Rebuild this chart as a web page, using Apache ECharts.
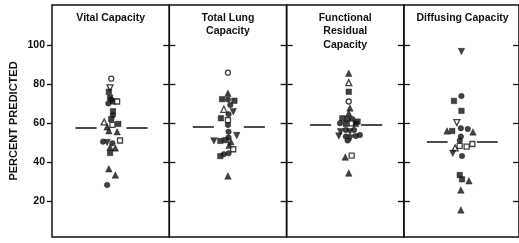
<!DOCTYPE html>
<html>
<head>
    <meta charset="utf-8">
    <style>
        html, body {
            margin: 0;
            padding: 0;
            background: #fff;
        }

        #chart-panel {
            width: 519px;
            height: 243px;
        }
    </style>
</head>
<body>
    <div id="chart-panel"></div>
    <script type="text/javascript" src="https://cdn.jsdelivr.net/npm/echarts@6.0.0/dist/echarts.min.js"></script>
    <script type="text/javascript">
        // panel titles, tick labels, medians
        var panelTitles = ['Vital Capacity', 'Total Lung\nCapacity', 'Functional\nResidual\nCapacity', 'Diffusing Capacity'];
        var yTicks = [20, 40, 60, 80, 100];
        var medians = [57.3, 57.9, 59.0, 50.4];

        // marker codes: o open circle, c filled circle, s open square, S filled square,
        // t open triangle, T filled triangle, v open inverted triangle, V filled inverted triangle
        var vcValues = [82.7, 78, 76, 73, 72, 71, 71, 70, 66, 64, 62, 60.5, 59, 59.5, 58, 56, 55.5, 50.4, 50, 49.6, 51, 47.5, 47.2, 44.6, 36.5, 33.3, 28.2];
        var vcJitter = [0.01, -0.01, -0.03, -0.01, 0.01, 0.04, 0.11, -0.04, 0.04, 0.04, 0.01, -0.11, 0.03, 0.13, -0.06, -0.03, 0.11, -0.13, -0.06, 0.03, 0.16, -0.01, 0.08, -0.01, -0.03, 0.08, -0.06];
        var vcMarks = 'ovSScSscScStsSTTTcVcsTTSTTc';

        var tlcValues = [85.8, 75.2, 72.2, 72, 71.4, 69.2, 67, 65.8, 64.5, 62.4, 61.5, 59, 55.5, 52.5, 53.5, 50.8, 50.8, 51.2, 50.4, 48.5, 46.5, 44.4, 44, 43, 32.8];
        var tlcJitter = [0, 0, -0.1, 0, 0.11, 0.04, -0.07, 0.09, 0.01, -0.12, 0, 0, 0.01, 0.01, 0.15, -0.24, -0.13, -0.04, 0.05, 0.02, 0.09, 0.01, -0.07, -0.13, 0];
        var tlcMarks = 'oTScSctVcSscccVVSSTTsccST';

        var frcValues = [85.5, 80.7, 76, 71, 67.7, 65, 62.4, 62, 62, 60.7, 59.8, 59.5, 59.8, 59.5, 55.5, 56.4, 55.5, 56.4, 53.3, 53, 52.3, 53.3, 53.8, 51, 42.5, 43.2, 34.3];
        var frcJitter = [0.06, 0.06, 0.06, 0.06, 0.08, 0.06, -0.05, 0.04, 0.12, 0.21, -0.09, 0.01, 0.11, 0.18, -0.08, 0.01, 0.08, 0.15, -0.11, 0.01, 0.09, 0.18, 0.25, 0.04, 0, 0.11, 0.06];
        var frcMarks = 'TtSoTTSScScSsSVcVcVcVcccTsT';

        var dlcoValues = [96.6, 73.8, 71.3, 66.2, 60.2, 55.9, 55.9, 57.3, 56.9, 55.4, 53, 51, 47.2, 48.2, 47.9, 49.2, 44.4, 43, 33.3, 31.1, 30.3, 25.6, 15.4];
        var dlcoJitter = [0, 0, -0.13, 0, -0.08, -0.25, -0.16, -0.01, 0.11, 0.2, -0.01, -0.03, -0.11, -0.03, 0.09, 0.19, -0.15, 0.01, -0.03, 0.01, 0.13, -0.01, -0.01];
        var dlcoMarks = 'VcSSvTSccTcctsssVcSSTTT';

        var panels = [
            { values: vcValues, jitter: vcJitter, marks: vcMarks },
            { values: tlcValues, jitter: tlcJitter, marks: tlcMarks },
            { values: frcValues, jitter: frcJitter, marks: frcMarks },
            { values: dlcoValues, jitter: dlcoJitter, marks: dlcoMarks }
        ];

        var ink = '#111';
        var font = '"Liberation Sans", Arial, sans-serif';
        var plotLeft = 52, plotTop = 5, panelW = 117.3, panelH = 232;
        var yMin = 1.5, yMax = 120.5;

        var markerStyles = {
            o: { symbol: 'circle', size: 5, filled: false, rotate: 0 },
            c: { symbol: 'circle', size: 5.5, filled: true, rotate: 0 },
            s: { symbol: 'rect', size: 5, filled: false, rotate: 0 },
            S: { symbol: 'rect', size: 5.5, filled: true, rotate: 0 },
            t: { symbol: 'triangle', size: 6, filled: false, rotate: 0 },
            T: { symbol: 'triangle', size: 6.5, filled: true, rotate: 0 },
            v: { symbol: 'triangle', size: 6, filled: false, rotate: 180 },
            V: { symbol: 'triangle', size: 6.5, filled: true, rotate: 180 }
        };

        function markerItem (v, x, code) {
            var st = markerStyles[code];
            return {
                value: [x, v],
                symbol: st.symbol,
                symbolSize: st.size,
                symbolRotate: st.rotate,
                itemStyle: {
                    color: st.filled ? ink : '#fff',
                    borderColor: ink,
                    borderWidth: st.filled ? 0.5 : 1.3
                }
            };
        }

        var grids = [], xAxes = [], yAxes = [], series = [], graphics = [];

        panels.forEach(function (p, i) {
            grids.push({
                left: plotLeft + panelW * i,
                top: plotTop,
                width: panelW,
                height: panelH,
                show: true,
                borderColor: ink,
                borderWidth: 1.5,
                backgroundColor: 'transparent'
            });
            xAxes.push({ type: 'value', gridIndex: i, min: -1, max: 1, show: false });
            // left axis
            yAxes.push({
                type: 'value',
                gridIndex: i,
                position: 'left',
                min: yMin,
                max: yMax,
                name: i === 0 ? 'PERCENT PREDICTED' : '',
                nameLocation: 'middle',
                nameRotate: 90,
                nameGap: 33,
                nameTextStyle: { color: ink, fontSize: 11, fontWeight: 'bold', fontFamily: font },
                axisLine: { show: false, onZero: false },
                axisTick: {
                    show: true,
                    inside: i > 0,
                    length: i > 0 ? 6 : 5,
                    customValues: yTicks,
                    lineStyle: { color: ink, width: 1.3 }
                },
                axisLabel: {
                    show: i === 0,
                    customValues: yTicks,
                    margin: 7,
                    color: ink,
                    fontSize: 10.5,
                    fontWeight: 'bold',
                    fontFamily: font
                },
                splitLine: { show: false }
            });
            // right axis (inward ticks)
            yAxes.push({
                type: 'value',
                gridIndex: i,
                position: 'right',
                min: yMin,
                max: yMax,
                axisLine: { show: false, onZero: false },
                axisTick: {
                    show: true,
                    inside: true,
                    length: 6,
                    customValues: yTicks,
                    lineStyle: { color: ink, width: 1.3 }
                },
                axisLabel: { show: false },
                splitLine: { show: false }
            });

            var m = medians[i];
            series.push({
                type: 'scatter',
                xAxisIndex: i,
                yAxisIndex: i * 2,
                silent: true,
                data: p.values.map(function (v, k) {
                    return markerItem(v, p.jitter[k], p.marks[k]);
                }),
                markLine: {
                    silent: true,
                    symbol: ['none', 'none'],
                    label: { show: false },
                    lineStyle: { color: ink, width: 1.5, type: 'solid' },
                    data: [
                        [{ coord: [-0.6, m] }, { coord: [-0.24, m] }],
                        [{ coord: [0.27, m] }, { coord: [0.63, m] }]
                    ]
                }
            });

            graphics.push({
                type: 'text',
                x: plotLeft + panelW * i + panelW / 2,
                y: 11,
                silent: true,
                style: {
                    text: panelTitles[i],
                    align: 'center',
                    verticalAlign: 'top',
                    fill: ink,
                    font: 'bold 10.5px ' + font,
                    lineHeight: 13.5
                }
            });
        });

        var myChart = echarts.init(document.getElementById('chart-panel'));
        myChart.setOption({
            animation: false,
            backgroundColor: '#fff',
            grid: grids,
            xAxis: xAxes,
            yAxis: yAxes,
            series: series,
            graphic: graphics
        });
    </script>
</body>
</html>
